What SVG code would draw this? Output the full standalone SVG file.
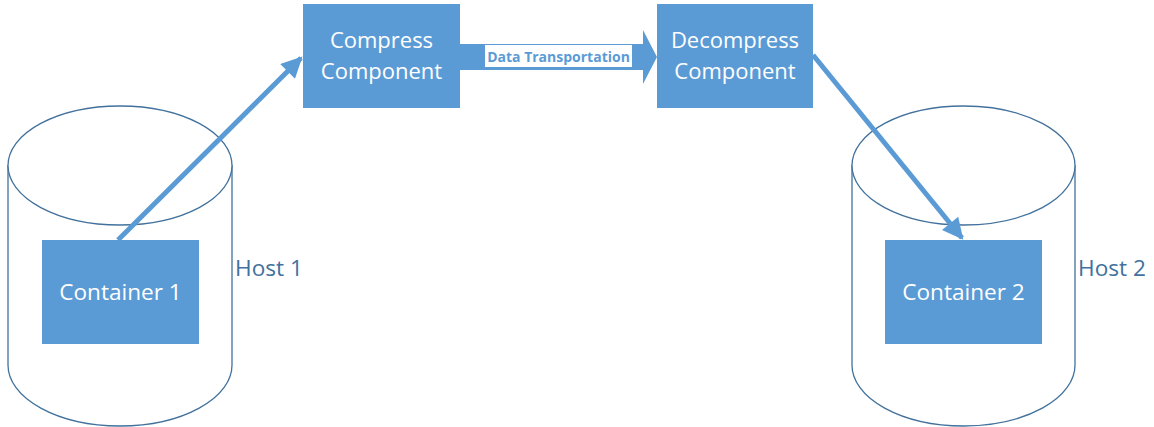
<svg xmlns="http://www.w3.org/2000/svg" width="1154" height="427" viewBox="0 0 1154 427">
  <defs>
    <style>
      .host { fill: #ffffff; stroke: #41719C; stroke-width: 1.3; }
      .box { fill: #5B9BD5; }
      .box-text { font-family: "Open Sans", "Liberation Sans", sans-serif; font-size: 22px; fill: #ffffff; text-anchor: middle; }
      .big { font-size: 22.6px; }
      .host-label { font-family: "Open Sans", "Liberation Sans", sans-serif; font-size: 22.6px; fill: #41719C; }
      .link { stroke: #5B9BD5; stroke-width: 5; fill: none; }
      .flow-label { font-family: "Open Sans", "Liberation Sans", sans-serif; font-size: 14px; font-weight: bold; fill: #5B9BD5; text-anchor: middle; }
    </style>
    <marker id="head" viewBox="0 0 10 10" refX="9" refY="5" markerWidth="4.6" markerHeight="4.2" markerUnits="strokeWidth" orient="auto">
      <path d="M0,0 L10,5 L0,10 Z" fill="#5B9BD5"/>
    </marker>
  </defs>

  <!-- Host 1 -->
  <g id="host1">
    <path class="host" d="M8,165 L8,365 A112,61 0 0 0 232,365 L232,165"/>
    <ellipse class="host" cx="120" cy="165.5" rx="112" ry="59.5"/>
    <text class="host-label" x="235" y="276">Host 1</text>
  </g>

  <!-- Host 2 -->
  <g id="host2">
    <path class="host" d="M852,165 L852,365 A111.5,61 0 0 0 1075,365 L1075,165"/>
    <ellipse class="host" cx="963.5" cy="165.5" rx="111.5" ry="59.5"/>
    <text class="host-label" x="1078" y="276">Host 2</text>
  </g>

  <!-- Container 1 -->
  <g id="container1">
    <rect class="box" x="42" y="240" width="157" height="104"/>
    <text class="box-text big" x="120.5" y="300">Container 1</text>
  </g>

  <!-- Container 2 -->
  <g id="container2">
    <rect class="box" x="885" y="240" width="157" height="104"/>
    <text class="box-text big" x="963.5" y="300">Container 2</text>
  </g>

  <!-- Compress Component -->
  <g id="compress">
    <rect class="box" x="303" y="4" width="157" height="104"/>
    <text class="box-text" x="381.5" y="48">Compress</text>
    <text class="box-text" x="381.5" y="79">Component</text>
  </g>

  <!-- Decompress Component -->
  <g id="decompress">
    <rect class="box" x="657" y="4" width="156" height="104"/>
    <text class="box-text" x="735" y="48">Decompress</text>
    <text class="box-text" x="735" y="79">Component</text>
  </g>

  <!-- Connectors -->
  <g id="connectors">
    <line class="link" x1="118" y1="240" x2="301" y2="58" marker-end="url(#head)"/>
    <line class="link" x1="813" y1="55" x2="962" y2="238" marker-end="url(#head)"/>
    <!-- block arrow for data transport -->
    <path d="M460,44 L643,44 L643,30 L657,57 L643,84 L643,70 L460,70 Z" fill="#5B9BD5"/>
    <rect x="485" y="45" width="147" height="22" fill="#ffffff"/>
    <text class="flow-label" x="558.5" y="61.5">Data Transportation</text>
  </g>
</svg>
